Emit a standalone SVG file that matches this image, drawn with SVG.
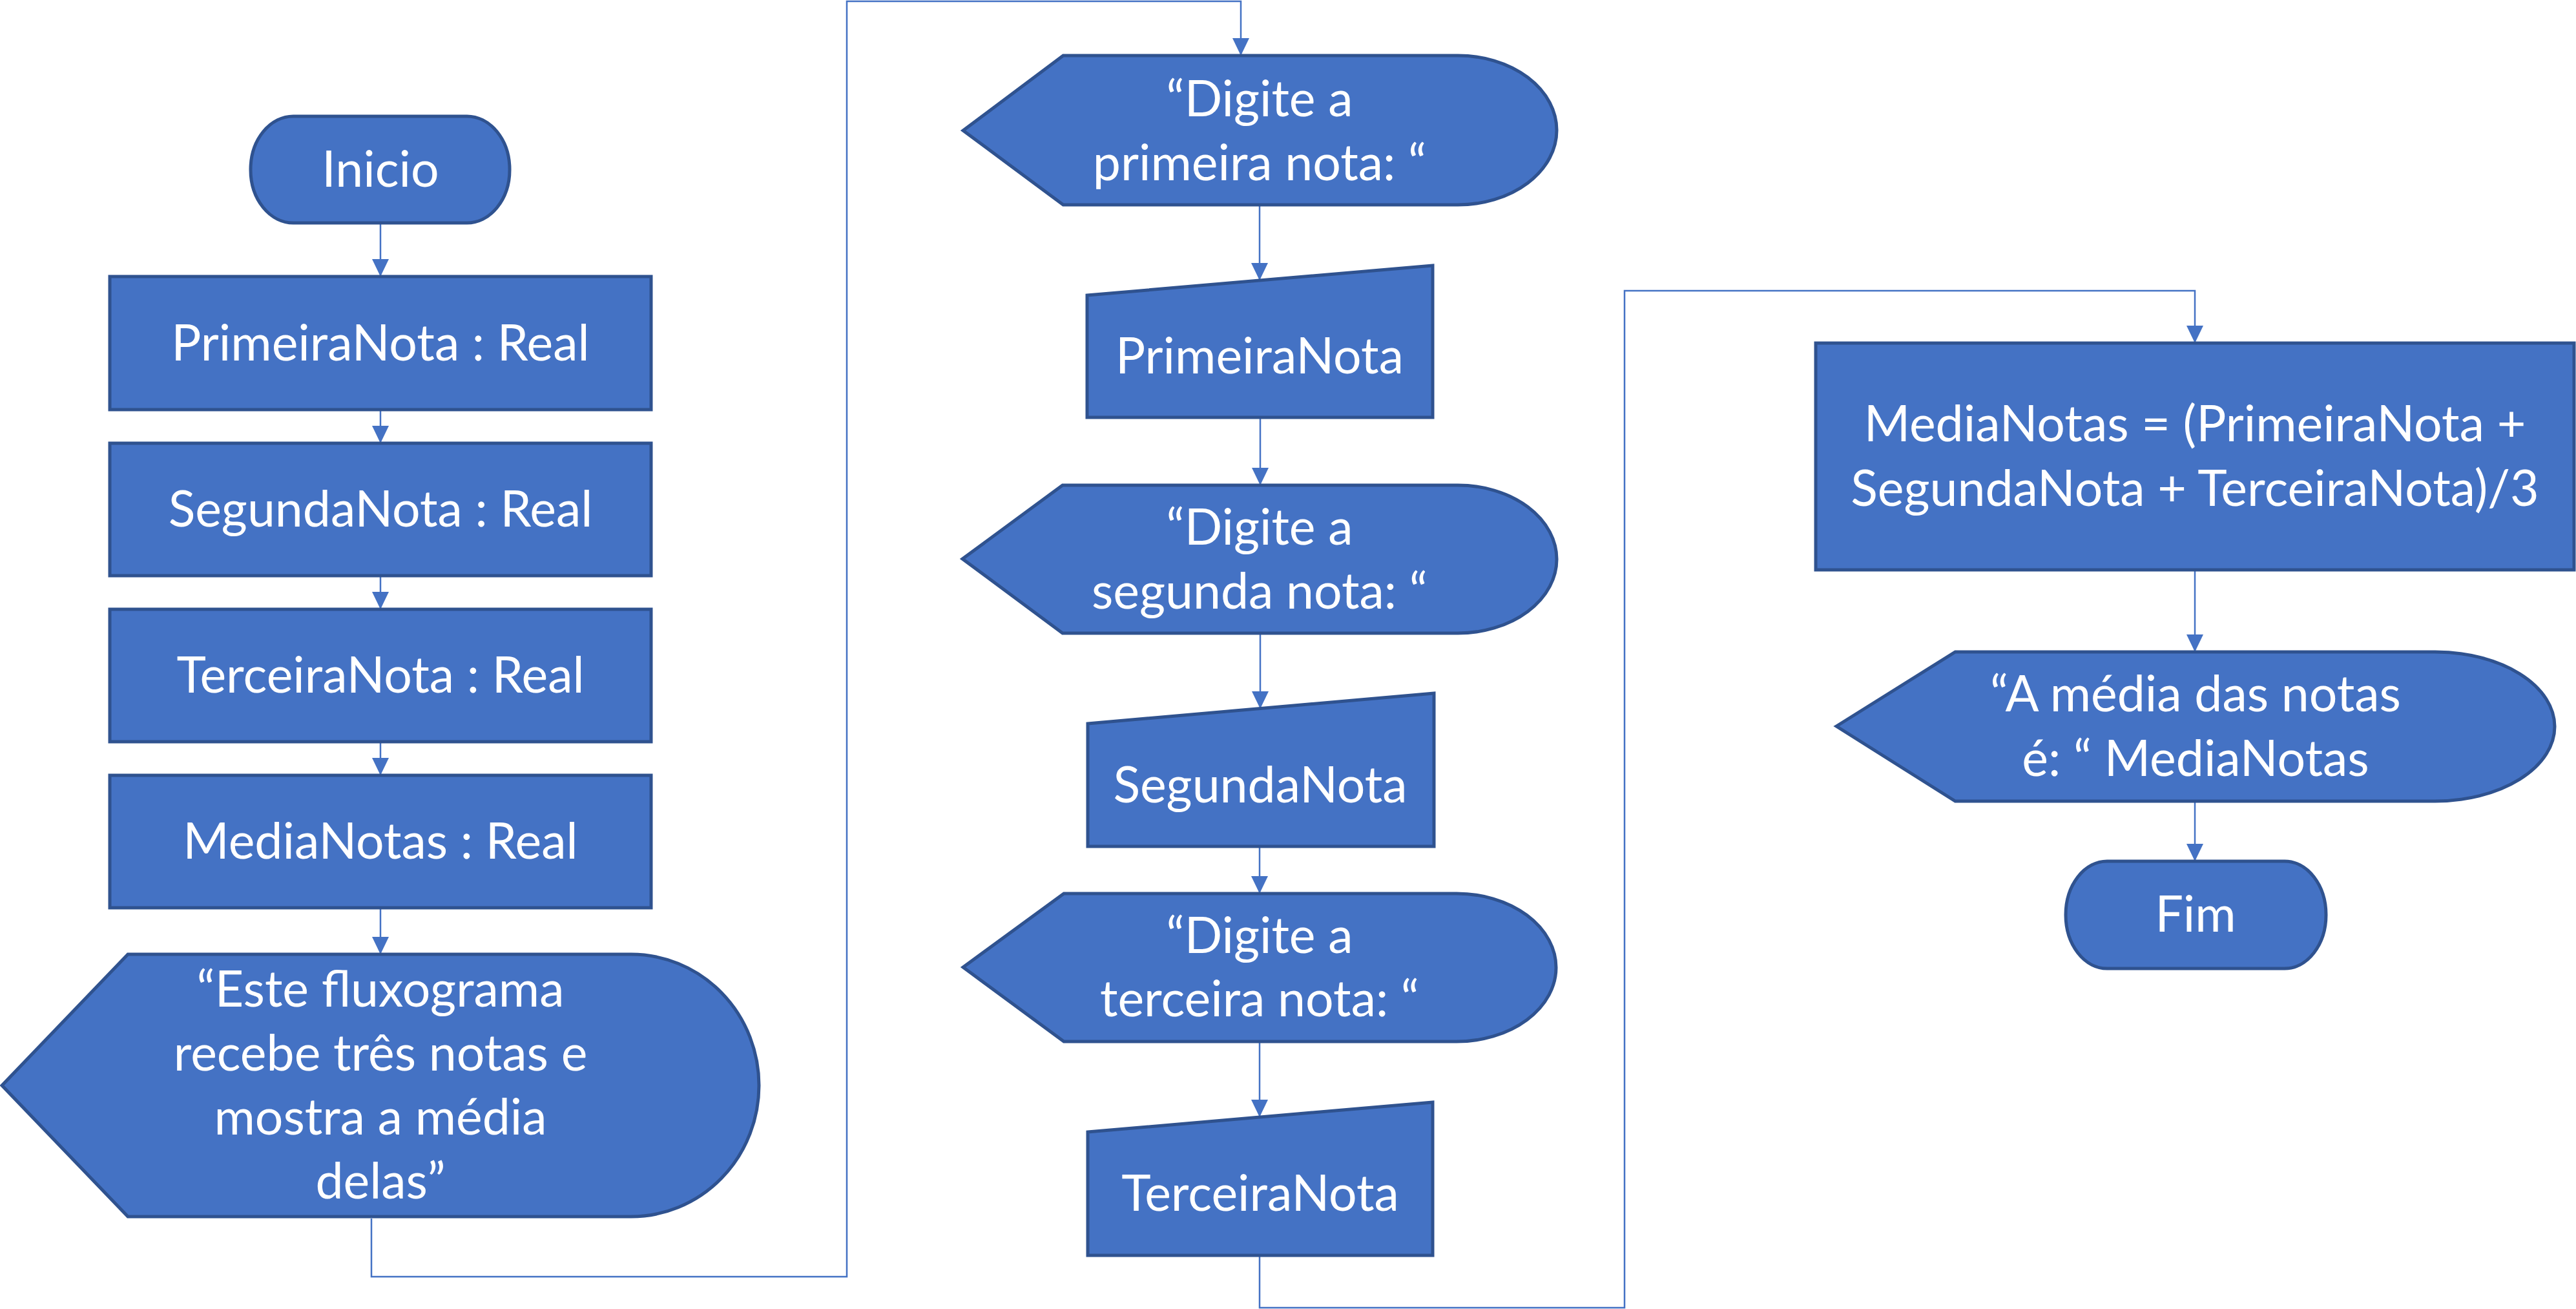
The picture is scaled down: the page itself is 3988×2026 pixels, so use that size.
<svg xmlns="http://www.w3.org/2000/svg" width="3988" height="2026" viewBox="0 0 3988 2026">
<defs>
<style>
.node{fill:#4472C4;stroke:#2F528F;stroke-width:5;stroke-linejoin:miter}
.lbl{fill:#FFFFFF;font-family:Lato,"Open Sans","Liberation Sans",sans-serif;font-size:77px;text-anchor:middle}
.conn{fill:none;stroke:#4472C4;stroke-width:2.5}
</style>
<marker id="arr" markerUnits="userSpaceOnUse" markerWidth="28" markerHeight="28" viewBox="0 0 28 28" refX="27" refY="14" orient="auto">
<path d="M0,1 L27,14 L0,27 z" fill="#4472C4"/>
</marker>
</defs>
<rect width="3988" height="2026" fill="#FFFFFF"/>
<g id="connectors">
<path class="conn" marker-end="url(#arr)" d="M589,346 V428"/>
<path class="conn" marker-end="url(#arr)" d="M589,634 V686"/>
<path class="conn" marker-end="url(#arr)" d="M589,891 V943"/>
<path class="conn" marker-end="url(#arr)" d="M589,1148 V1200"/>
<path class="conn" marker-end="url(#arr)" d="M589,1405 V1477"/>
<path class="conn" marker-end="url(#arr)" d="M575,1886 V1976 H1311 V2 H1921 V86"/>
<path class="conn" marker-end="url(#arr)" d="M1950,317 V434"/>
<path class="conn" marker-end="url(#arr)" d="M1951,646 V751"/>
<path class="conn" marker-end="url(#arr)" d="M1951,980 V1097"/>
<path class="conn" marker-end="url(#arr)" d="M1950,1310 V1383"/>
<path class="conn" marker-end="url(#arr)" d="M1950,1612 V1729"/>
<path class="conn" marker-end="url(#arr)" d="M1950,1943 V2024 H2515 V450 H3398 V531"/>
<path class="conn" marker-end="url(#arr)" d="M3398,882 V1009"/>
<path class="conn" marker-end="url(#arr)" d="M3398,1240 V1333"/>
</g>
<g id="inicio">
<rect class="node" x="388" y="180" width="401" height="165" rx="66" ry="82"/>
<text class="lbl" x="589" y="289">Inicio</text>
</g>
<g id="decl-primeira">
<rect class="node" x="170" y="428" width="838" height="206"/>
<text class="lbl" x="589" y="558">PrimeiraNota : Real</text>
</g>
<g id="decl-segunda">
<rect class="node" x="170" y="686" width="838" height="205"/>
<text class="lbl" x="589" y="815">SegundaNota : Real</text>
</g>
<g id="decl-terceira">
<rect class="node" x="170" y="943" width="838" height="205"/>
<text class="lbl" x="589" y="1072">TerceiraNota : Real</text>
</g>
<g id="decl-media">
<rect class="node" x="170" y="1200" width="838" height="205"/>
<text class="lbl" x="589" y="1329">MediaNotas : Real</text>
</g>
<g id="display-intro">
<path class="node" d="M3,1680 L198,1477 H977 A198,203 0 0 1 977,1883 H198 Z"/>
<text class="lbl" x="589" y="1558">“Este fluxograma</text>
<text class="lbl" x="589" y="1657">recebe três notas e</text>
<text class="lbl" x="589" y="1756">mostra a média</text>
<text class="lbl" x="589" y="1855">delas”</text>
</g>
<g id="display-primeira">
<path class="node" d="M1491,202 L1646,86 H2257 A153,115.5 0 0 1 2257,317 H1646 Z"/>
<text class="lbl" x="1950" y="180">“Digite a</text>
<text class="lbl" x="1950" y="279">primeira nota: “</text>
</g>
<g id="input-primeira">
<path class="node" d="M1683,457 L2218,411 V646 H1683 Z"/>
<text class="lbl" x="1950" y="578">PrimeiraNota</text>
</g>
<g id="display-segunda">
<path class="node" d="M1490,865 L1645,751 H2257 A153,114.5 0 0 1 2257,980 H1645 Z"/>
<text class="lbl" x="1950" y="843">“Digite a</text>
<text class="lbl" x="1950" y="942">segunda nota: “</text>
</g>
<g id="input-segunda">
<path class="node" d="M1684,1120 L2220,1073 V1310 H1684 Z"/>
<text class="lbl" x="1951" y="1242">SegundaNota</text>
</g>
<g id="display-terceira">
<path class="node" d="M1491,1497 L1647,1383 H2255 A154,114.5 0 0 1 2255,1612 H1647 Z"/>
<text class="lbl" x="1950" y="1475">“Digite a</text>
<text class="lbl" x="1950" y="1573">terceira nota: “</text>
</g>
<g id="input-terceira">
<path class="node" d="M1684,1752 L2218,1706 V1943 H1684 Z"/>
<text class="lbl" x="1951" y="1874">TerceiraNota</text>
</g>
<g id="calc-media">
<rect class="node" x="2811" y="531" width="1174" height="351"/>
<text class="lbl" x="3398" y="683">MediaNotas = (PrimeiraNota +</text>
<text class="lbl" x="3398" y="783">SegundaNota + TerceiraNota)/3</text>
</g>
<g id="display-media">
<path class="node" d="M2843,1124 L3027,1009 H3770 A185,115.5 0 0 1 3770,1240 H3027 Z"/>
<text class="lbl" x="3399" y="1101">“A média das notas</text>
<text class="lbl" x="3399" y="1201">é: “ MediaNotas</text>
</g>
<g id="fim">
<rect class="node" x="3198" y="1333" width="403" height="166" rx="64" ry="83"/>
<text class="lbl" x="3399" y="1442">Fim</text>
</g>
</svg>
